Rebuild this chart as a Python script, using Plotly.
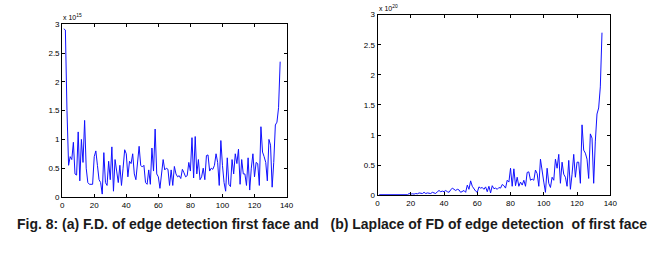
import plotly.graph_objects as go

# Left: F.D. of edge detection first face (x 10^15)
fd_vals = [2.92, 2.9, 1.5, 0.55, 0.7, 0.65, 0.95, 0.4, 0.38, 1.13,
           0.28, 1.0, 0.6, 1.33, 0.5, 0.25, 0.22, 0.22, 0.22, 0.7,
           0.8, 0.55, 0.3, 0.25, 0.05, 0.77, 0.25, 0.2, 0.62, 0.3,
           0.87, 0.1, 0.65, 0.45, 0.25, 0.55, 0.2, 0.5, 0.82, 0.75,
           0.35, 0.62, 0.58, 0.75, 0.4, 0.3, 0.6, 0.88, 0.55, 0.52,
           0.55, 0.25, 0.22, 0.47, 0.22, 0.85, 0.45, 1.18, 0.4, 0.35,
           0.15, 0.47, 0.65, 0.47, 0.5, 0.48, 0.2, 0.47, 0.2, 0.53,
           0.4, 0.35, 0.37, 0.32, 0.48, 0.42, 0.35, 0.37, 0.6, 0.45,
           1.03, 0.33, 1.05, 0.4, 0.65, 0.3, 0.35, 0.5, 0.3, 0.72,
           0.73, 0.45, 0.5, 0.48, 0.55, 0.75, 0.6, 0.2, 0.98, 0.55,
           0.25, 0.1, 0.68, 0.22, 0.18, 0.65, 0.4, 0.75, 0.58, 0.83,
           0.22, 0.65, 0.4, 0.4, 0.2, 0.68, 0.12, 0.5, 0.75, 0.35,
           0.6, 0.58, 0.2, 1.22, 0.78, 0.7, 0.6, 0.28, 1.0, 0.9,
           0.17, 0.6, 1.25, 1.3, 1.55, 2.35]

# Right: Laplace of FD of edge detection of first face (x 10^20)
lap_vals = [0.01, 0.01, 0.01, 0.01, 0.01, 0.01, 0.01, 0.01, 0.01, 0.01,
            0.01, 0.012, 0.01, 0.012, 0.01, 0.012, 0.015, 0.01,
            0.03, 0.02, 0.025, 0.02, 0.03, 0.025, 0.04, 0.03, 0.03, 0.05, 0.03, 0.04,
            0.04, 0.03, 0.05, 0.04, 0.03, 0.06, 0.08, 0.06, 0.07, 0.06,
            0.08, 0.06, 0.05, 0.09, 0.12, 0.1, 0.08, 0.1, 0.09, 0.05,
            0.06, 0.08, 0.05, 0.17, 0.1, 0.24, 0.15, 0.1, 0.07, 0.05,
            0.14, 0.12, 0.13, 0.1, 0.14, 0.06, 0.15, 0.04, 0.16, 0.11,
            0.12, 0.1, 0.13, 0.12, 0.18, 0.16, 0.12, 0.25, 0.22, 0.45,
            0.15, 0.44, 0.16, 0.3, 0.15, 0.22, 0.17, 0.25, 0.15, 0.38,
            0.39, 0.25, 0.27, 0.25, 0.42, 0.36, 0.15, 0.6, 0.38, 0.22,
            0.05, 0.45, 0.2, 0.13, 0.3, 0.25, 0.6, 0.45, 0.68, 0.2,
            0.55, 0.35, 0.3, 0.15, 0.58, 0.1, 0.35, 0.68, 0.3, 0.55,
            0.55, 0.2, 1.17, 0.75, 0.7, 0.6, 0.28, 1.02, 0.95, 0.2,
            0.9, 1.35, 1.45, 1.8, 2.7]

x_ticks = [0, 20, 40, 60, 80, 100, 120, 140]
y_ticks = [0, 0.5, 1, 1.5, 2, 2.5, 3]
y_tick_labels = ["0", "0.5", "1", "1.5", "2", "2.5", "3"]
caption = ("Fig. 8: (a) F.D. of edge detection first face and&nbsp;&nbsp;&nbsp;"
           "(b) Laplace of FD of edge detection&nbsp;&nbsp;of first face")

W, H = 661, 256

fig = go.Figure()
fig.add_trace(go.Scatter(x=list(range(1, len(fd_vals) + 1)), y=fd_vals, mode="lines",
                         line=dict(color="#1010ff", width=1), xaxis="x", yaxis="y",
                         showlegend=False))
fig.add_trace(go.Scatter(x=list(range(1, len(lap_vals) + 1)), y=lap_vals, mode="lines",
                         line=dict(color="#1010ff", width=1), xaxis="x2", yaxis="y2",
                         showlegend=False))

axis_common = dict(showgrid=False, zeroline=False, showline=True, linecolor="black",
                   linewidth=1, mirror="ticks", ticks="inside", ticklen=3,
                   tickcolor="black", tickfont=dict(family="Liberation Sans, Arial", size=8,
                                                    color="black"))

def px_x(p):
    return p / W

def px_y(p):
    return 1 - p / H

fig.update_layout(
    width=W, height=H, margin=dict(l=0, r=0, t=0, b=0),
    paper_bgcolor="white", plot_bgcolor="white",
    xaxis=dict(domain=[px_x(61), px_x(288.5)], range=[0, 140], tickvals=x_ticks,
               anchor="y", **axis_common),
    yaxis=dict(domain=[px_y(200), px_y(21)], range=[0, 3], tickvals=y_ticks,
               ticktext=y_tick_labels, anchor="x", **axis_common),
    xaxis2=dict(domain=[px_x(380.7), px_x(616.7)], range=[0, 140], tickvals=x_ticks,
                anchor="y2", **axis_common),
    yaxis2=dict(domain=[px_y(198.3), px_y(11)], range=[0, 3], tickvals=y_ticks,
                ticktext=y_tick_labels, anchor="x2", **axis_common),
    annotations=[
        dict(text="x 10<sup>15</sup>", xref="paper", yref="paper", x=px_x(60), y=px_y(20),
             xanchor="left", yanchor="bottom", showarrow=False,
             font=dict(family="Liberation Sans, Arial", size=7, color="black")),
        dict(text="x 10<sup>20</sup>", xref="paper", yref="paper", x=px_x(380), y=px_y(10),
             xanchor="left", yanchor="bottom", showarrow=False,
             font=dict(family="Liberation Sans, Arial", size=7, color="black")),
        dict(text="<b>" + caption + "</b>", xref="paper", yref="paper", x=px_x(13), y=px_y(228),
             xanchor="left", yanchor="middle", showarrow=False,
             font=dict(family="Liberation Sans, Arial", size=14, color="#1a1a1a")),
    ],
)

fig.write_html("out.html")
